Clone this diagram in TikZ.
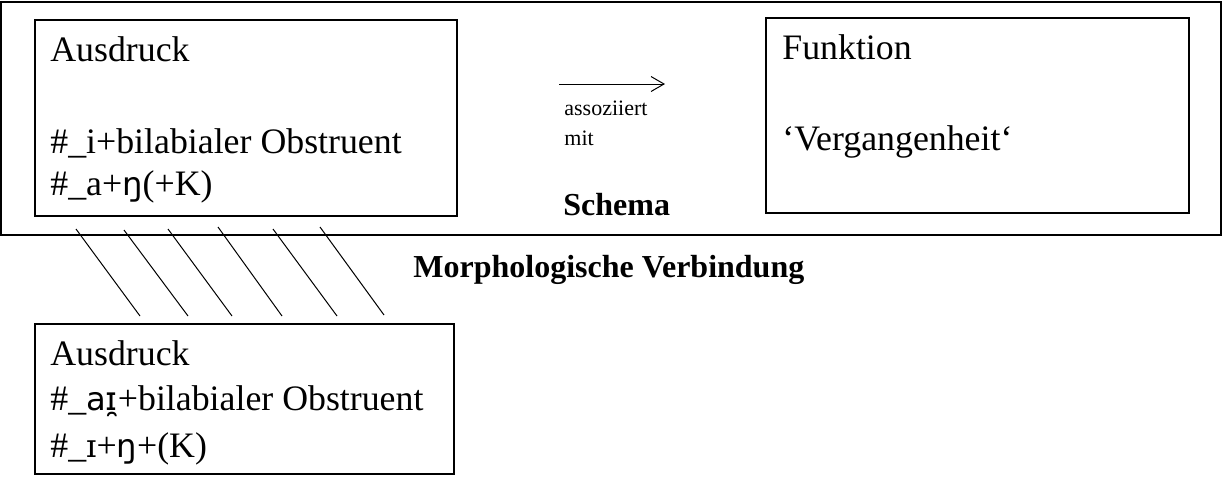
\documentclass[tikz,border=0pt]{standalone}
\usepackage{fontspec}
\setmainfont{Liberation Serif}
\newfontfamily\ipafont[Scale=0.9]{DejaVu Sans}
\newfontfamily\ipaserif[Scale=0.9]{DejaVu Serif}
\usetikzlibrary{arrows.meta}
\begin{document}
\begin{tikzpicture}[x=0.5pt,y=-0.5pt,
  box/.style={draw=black, line width=1pt, inner sep=0pt, rectangle},
  txt/.style={anchor=base west, inner sep=0pt, font=\fontsize{17.9}{20}\selectfont},
  small/.style={anchor=base west, inner sep=0pt, font=\fontsize{11}{13}\selectfont},
  head/.style={anchor=base west, inner sep=0pt, font=\fontsize{16}{19}\selectfont\bfseries},
  hatch/.style={draw=black, line width=0.5pt}]
\useasboundingbox (0,0) rectangle (1224,489);
% boxes
\node[box, minimum width=610pt, minimum height=116.5pt] (schema) at (611,118.5) {};
\node[box, minimum width=211pt, minimum height=98pt] (aus1) at (246,118) {};
\node[box, minimum width=211.5pt, minimum height=97.5pt] (funk) at (977.5,115.5) {};
\node[box, minimum width=209.5pt, minimum height=75pt] (aus2) at (244.5,399) {};
% texts upper left
\node[txt] (a1t) at (50,61) {Ausdruck};
\node[txt] (a1l1) at (50,153) {\#\_i+bilabialer Obstruent};
\node[txt] (a1l2) at (50,195) {\#\_a+{\ipafont ŋ}(+K)};
% function
\node[txt] (ft) at (782,59) {Funktion};
\node[txt] (fl1) at (782,150) {‘Vergangenheit‘};
% arrow
\coordinate (arrS) at (559,84);
\coordinate (arrE) at (665,84);
\draw[line width=0.5pt, -{Straight Barb[length=6.5pt,width=7.5pt]}] (arrS) -- (arrE);
\node[small] (as1) at (564,115) {assoziiert};
\node[small] (as2) at (564,145) {mit};
\node[head] (sch) at (563,215) {Schema};
\node[head] (mv) at (413,277) {Morphologische Verbindung};
% lower box texts
\node[txt] (a2t) at (50,365) {Ausdruck};
\node[txt] (a2l1) at (50,410) {\#\_{\ipafont aɪ̯}+bilabialer Obstruent};
\node[txt] (a2l2) at (50,457) {\#\_{\ipaserif ɪ}+{\ipafont ŋ}+(K)};
% hatch lines (morphological connection)
\foreach \xa/\ya/\xb/\yb [count=\i] in {76/229/140/316, 124/230/188/316, 168/229/232/316, 218/227/282/316, 273/229/337/316, 320/227/384/315}{
  \coordinate (h\i a) at (\xa,\ya);
  \coordinate (h\i b) at (\xb,\yb);
  \draw[hatch] (h\i a) -- (h\i b);
}
\end{tikzpicture}
\end{document}
